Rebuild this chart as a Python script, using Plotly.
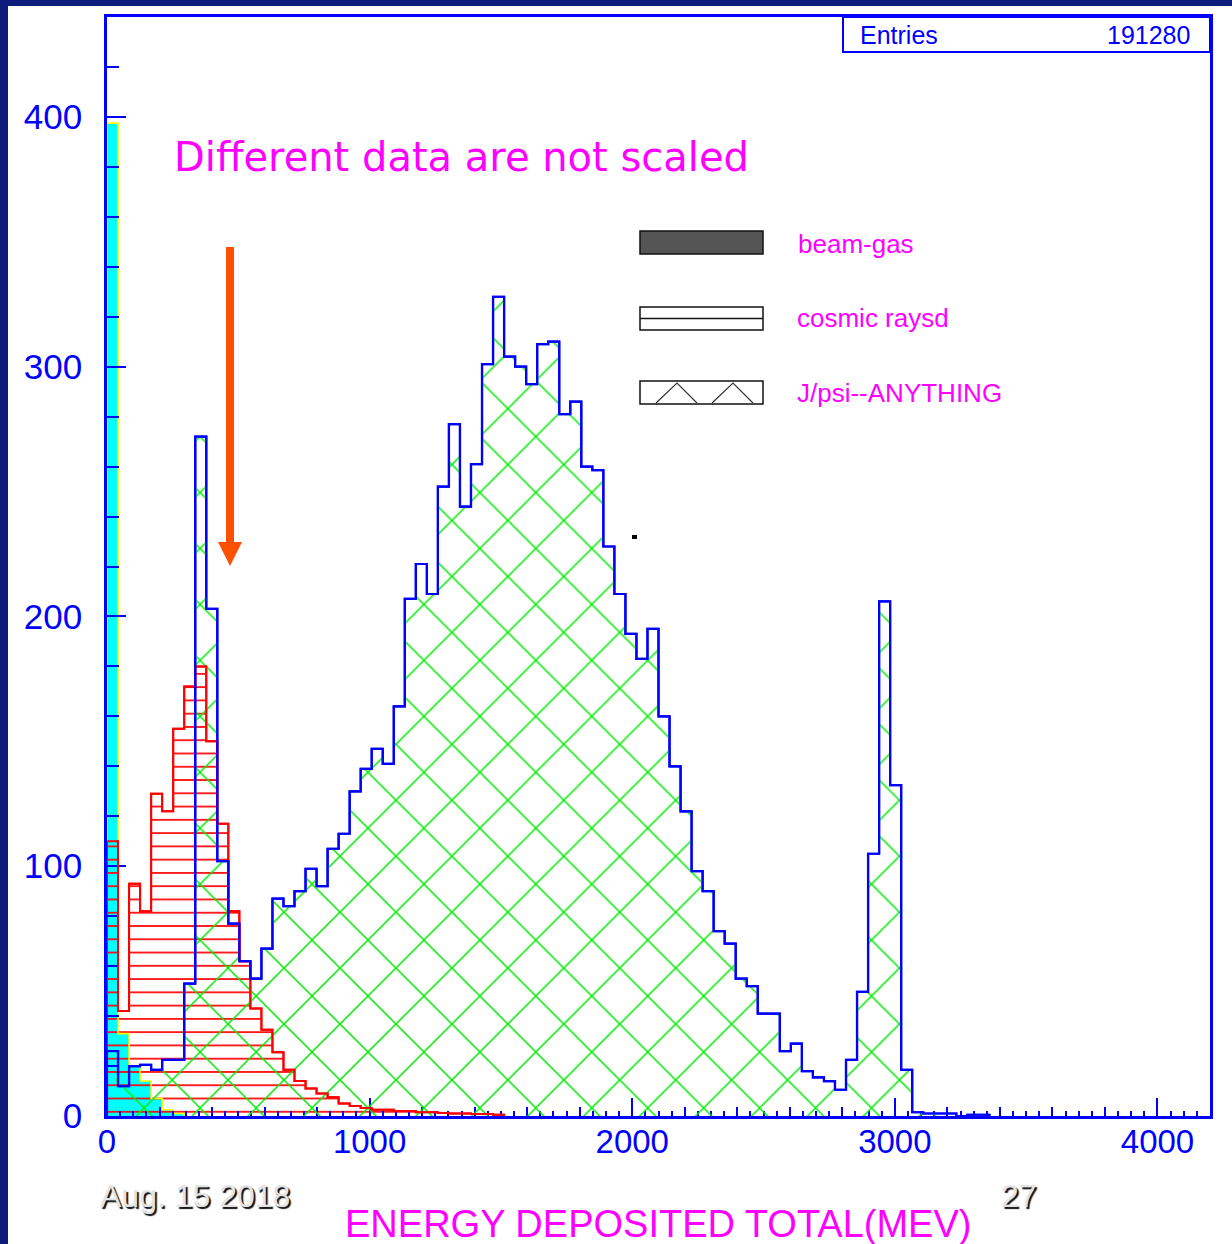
import plotly.graph_objects as go

# ---------------------------------------------------------------------------
# Histogram definition: 100 bins of 42 MeV covering 0 - 4200 MeV
# ---------------------------------------------------------------------------
BIN_WIDTH = 42.0
N_BINS = 100
edges = [i * BIN_WIDTH for i in range(N_BINS + 1)]
centers = [(i + 0.5) * BIN_WIDTH for i in range(N_BINS)]


def pad(vals):
    return list(vals) + [0.0] * (N_BINS - len(vals))


# beam-gas events (cyan, solid fill)
beam_gas = pad([397.5, 33, 20, 14, 7, 2.5, 1])

# cosmic ray events (red, horizontal hatching)
cosmic = pad([
    110, 42, 93, 82, 129, 122, 155, 172, 180, 150,
    117, 82, 62, 43, 34.5, 25.5, 18.5, 14, 11, 9,
    7.5, 5, 4, 3.2, 2.5, 2.5, 2, 2, 1.5, 1.5,
    1.2, 1, 1, 0.8, 0.8, 0.5,
])

# J/psi -> anything (blue outline, green cross hatching)
jpsi = pad([
    26, 12, 20, 20.5, 18.5, 22.5, 22.5, 53, 272, 203,
    102, 77, 62, 55, 67, 87, 84, 90, 99, 92,
    107, 113, 130, 139, 147, 141, 164, 207, 221, 209,
    252, 277, 244, 261, 301, 328, 304, 300, 293, 309,
    310, 281, 286, 260, 258.6, 228, 209, 193, 183, 195,
    160, 140, 122, 98, 90, 74, 69, 55, 52, 41,
    41, 26, 29, 18, 15.5, 14, 10.5, 22.5, 49.7, 105,
    206, 132.5, 18.5, 1.5, 1, 1, 1, 0, 0.5, 0.5,
])

ENTRIES = "191280"
X_RANGE = [0, 4200]
Y_RANGE = [0, 440]

# figure geometry (pixels)
W, H = 1232, 1244
ML, MR, MT, MB = 107, 22, 17, 128
PW = W - ML - MR
PH = H - MT - MB

# horizontal phase of the cross-hatch lattice (px from the frame's left edge)
HATCH_DX = 9.2
hatch_dom0 = HATCH_DX / PW
hatch_x0 = X_RANGE[0] + hatch_dom0 * (X_RANGE[1] - X_RANGE[0])


def px_x(p):
    return (p - ML) / PW


def px_y(p):
    return (H - MB - p) / PH


def step_outline(vals):
    last = max(i for i, v in enumerate(vals) if v > 0)
    xs = [0.0] + edges[: last + 1] + [edges[last + 1]]
    ys = [0.0] + vals[: last + 1] + [0.0]
    return xs, ys


BLUE = "#0000ff"
RED = "#ff0000"
GREEN = "#00ee00"
MAGENTA = "#ff00ff"
CLEAR = "rgba(0,0,0,0)"

fig = go.Figure()

# beam-gas: cyan fill, yellow outline
fig.add_trace(go.Bar(
    x=centers, y=beam_gas, width=BIN_WIDTH,
    marker=dict(color="#00ffff", line=dict(width=0)),
    hoverinfo="skip", showlegend=False,
))
bx, by = step_outline(beam_gas)
fig.add_trace(go.Scatter(
    x=bx, y=by, mode="lines", line=dict(color="#ffff00", width=1.6, shape="hv"),
    hoverinfo="skip", showlegend=False,
))

# cosmic rays: horizontal hatching
fig.add_trace(go.Bar(
    x=centers, y=cosmic, width=BIN_WIDTH,
    marker=dict(
        color=CLEAR, line=dict(width=0),
        pattern=dict(shape="-", fgcolor=RED, bgcolor=CLEAR, fgopacity=1,
                     size=13.27, solidity=0.128, fillmode="overlay"),
    ),
    hoverinfo="skip", showlegend=False,
))

cx, cy = step_outline(cosmic)
jx, jy = step_outline(jpsi)
OUTLINES = [(cx, cy, RED, 2.0), (jx, jy, BLUE, 2.2)]

# outlines underneath (full extent)
for xs, ys, col, lw in OUTLINES:
    fig.add_trace(go.Scatter(
        x=xs, y=ys, mode="lines", line=dict(color=col, width=lw, shape="hv"),
        hoverinfo="skip", showlegend=False,
    ))

# J/psi cross hatching, on a twin axis whose origin sets the lattice phase
fig.add_trace(go.Bar(
    x=centers, y=jpsi, width=BIN_WIDTH, xaxis="x3", cliponaxis=False,
    marker=dict(
        color=CLEAR, line=dict(width=0),
        pattern=dict(shape="x", fgcolor=GREEN, bgcolor=CLEAR, fgopacity=1,
                     size=39.56, solidity=0.0743, fillmode="overlay"),
    ),
    hoverinfo="skip", showlegend=False,
))

# outlines on top of the hatching
for xs, ys, col, lw in OUTLINES:
    fig.add_trace(go.Scatter(
        x=xs, y=ys, xaxis="x3", mode="lines",
        line=dict(color=col, width=lw, shape="hv"),
        hoverinfo="skip", showlegend=False,
    ))

# dummy trace so the secondary tick axis is laid out
fig.add_trace(go.Scatter(x=[None], y=[None], xaxis="x2", mode="lines",
                         hoverinfo="skip", showlegend=False))

TICK_FONT = dict(family="Liberation Sans, Arial, sans-serif", color=BLUE)

fig.update_layout(
    width=W, height=H,
    margin=dict(l=ML, r=MR, t=MT, b=MB, pad=0),
    paper_bgcolor="#0d1b7a",
    plot_bgcolor=CLEAR,
    barmode="overlay", bargap=0,
    showlegend=False,
    xaxis=dict(
        range=X_RANGE, showgrid=False, zeroline=False,
        showline=True, linecolor=BLUE, linewidth=2.5, mirror=True,
        ticks="inside", ticklen=18, tickwidth=2, tickcolor=BLUE,
        tick0=0, dtick=1000,
        tickfont=dict(size=33, **TICK_FONT),
        ticklabelstandoff=-5,
        minor=dict(ticks="inside", dtick=50, ticklen=5, tickwidth=1.5, tickcolor=BLUE),
    ),
    xaxis2=dict(
        range=X_RANGE, overlaying="x", anchor="y", side="bottom",
        showgrid=False, zeroline=False, showline=False,
        ticks="inside", ticklen=9, tickwidth=1.8, tickcolor=BLUE,
        tick0=0, dtick=200, showticklabels=False,
    ),
    xaxis3=dict(
        range=[hatch_x0, X_RANGE[1]], domain=[hatch_dom0, 1], anchor="y",
        visible=False, showgrid=False, zeroline=False,
    ),
    yaxis=dict(
        range=Y_RANGE, showgrid=False, zeroline=False,
        showline=True, linecolor=BLUE, linewidth=2.5, mirror=True,
        ticks="inside", ticklen=19, tickwidth=2, tickcolor=BLUE,
        tick0=0, dtick=100,
        tickfont=dict(size=35, **TICK_FONT),
        ticklabelstandoff=15,
        minor=dict(ticks="inside", dtick=20, ticklen=12, tickwidth=2, tickcolor=BLUE),
    ),
)

shapes = []
# white page area inside the slide frame
shapes.append(dict(type="rect", xref="paper", yref="paper", layer="below",
                   x0=px_x(8), x1=px_x(W + 5), y0=px_y(H + 5), y1=px_y(6),
                   fillcolor="white", line=dict(width=0)))
# statistics box
shapes.append(dict(type="rect", xref="paper", yref="paper",
                   x0=px_x(843), x1=px_x(1210), y0=px_y(52), y1=px_y(17),
                   fillcolor="white", line=dict(color=BLUE, width=2)))
# legend swatches
LEG_L, LEG_R = 640, 763
shapes.append(dict(type="rect", xref="paper", yref="paper",
                   x0=px_x(LEG_L), x1=px_x(LEG_R), y0=px_y(254), y1=px_y(231),
                   fillcolor="#555555", line=dict(color="#111111", width=1.5)))
shapes.append(dict(type="rect", xref="paper", yref="paper",
                   x0=px_x(LEG_L), x1=px_x(LEG_R), y0=px_y(330), y1=px_y(307),
                   fillcolor="white", line=dict(color="#111111", width=1.5)))
shapes.append(dict(type="line", xref="paper", yref="paper",
                   x0=px_x(LEG_L), x1=px_x(LEG_R), y0=px_y(318.5), y1=px_y(318.5),
                   line=dict(color="#111111", width=1.5)))
shapes.append(dict(type="rect", xref="paper", yref="paper",
                   x0=px_x(LEG_L), x1=px_x(LEG_R), y0=px_y(404), y1=px_y(381),
                   fillcolor="white", line=dict(color="#111111", width=1.5)))
for a, b, c in [(656, 677, 697), (712, 733, 753)]:
    shapes.append(dict(
        type="path", xref="paper", yref="paper",
        path=f"M{px_x(a)},{px_y(403)} L{px_x(b)},{px_y(383)} L{px_x(c)},{px_y(403)}",
        line=dict(color="#333333", width=1.2)))
# orange arrow
ARROW = "#ff5000"
shapes.append(dict(type="rect", xref="paper", yref="paper",
                   x0=px_x(226), x1=px_x(234), y0=px_y(544), y1=px_y(247),
                   fillcolor=ARROW, line=dict(width=0)))
shapes.append(dict(
    type="path", xref="paper", yref="paper",
    path=f"M{px_x(218)},{px_y(542)} L{px_x(242)},{px_y(542)} L{px_x(230)},{px_y(566)} Z",
    fillcolor=ARROW, line=dict(width=0)))
# small mark
shapes.append(dict(type="rect", xref="paper", yref="paper",
                   x0=px_x(632), x1=px_x(637), y0=px_y(539), y1=px_y(535),
                   fillcolor="black", line=dict(width=0)))
fig.update_layout(shapes=shapes)

SANS = "Liberation Sans, Arial, sans-serif"


def note(text, x, y, size, color, family=SANS, xanchor="left", shadow=None):
    font = dict(family=family, size=size, color=color)
    if shadow:
        font["shadow"] = shadow
    fig.add_annotation(text=text, x=px_x(x), y=px_y(y), xref="paper", yref="paper",
                       xanchor=xanchor, yanchor="middle", showarrow=False,
                       font=font, borderpad=0)


note("Different data are not scaled", 173, 157, 40, MAGENTA, family="DejaVu Sans")
note("Entries", 859, 35, 25, BLUE)
note(ENTRIES, 1191, 35, 25, BLUE, xanchor="right")
note("beam-gas", 797, 244, 26, MAGENTA)
note("cosmic raysd", 796, 318, 26, MAGENTA)
note("J/psi--ANYTHING", 796, 393, 26, MAGENTA)
note("ENERGY DEPOSITED TOTAL(MEV)", 658, 1224, 38, MAGENTA, xanchor="center")
note("Aug. 15 2018", 99, 1196, 32, "#e4e4e4", shadow="2px 2px 1px #111111")
note("27", 1000, 1196, 32, "#e4e4e4", shadow="2px 2px 1px #111111")

fig.write_html("out.html")
